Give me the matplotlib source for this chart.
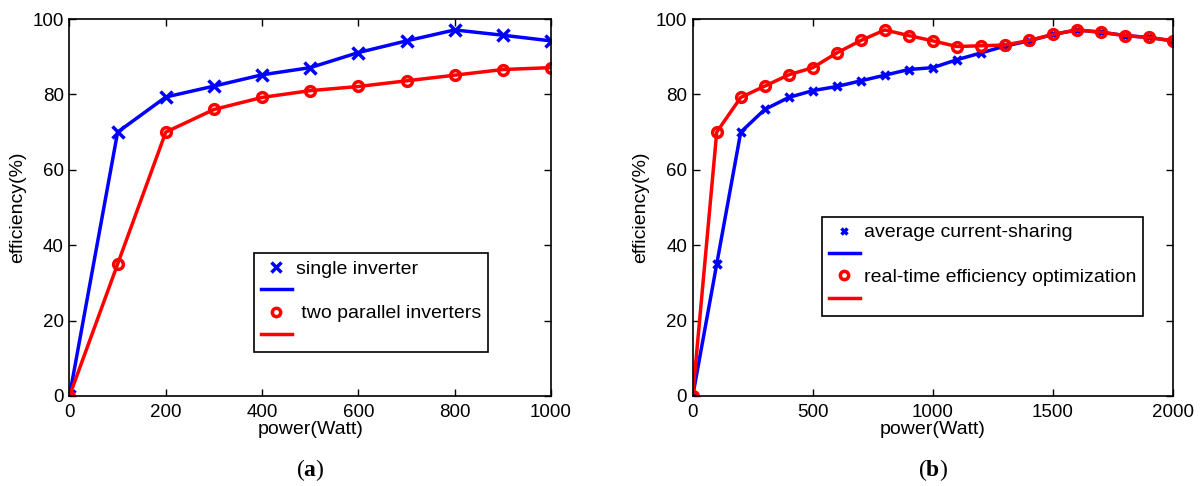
import numpy as np
import matplotlib
matplotlib.use('Agg')
import matplotlib.pyplot as plt
from matplotlib.lines import Line2D

plt.rcParams['font.family'] = ['Liberation Sans', 'DejaVu Sans']
plt.rcParams['mathtext.fontset'] = 'custom'
plt.rcParams['mathtext.rm'] = 'Liberation Serif'
plt.rcParams['mathtext.bf'] = 'Liberation Serif:bold'

# panel (a)
power_a = [0, 100, 200, 300, 400, 500, 600, 700, 800, 900, 1000]
single_inv = [0, 70, 79.3, 82.2, 85.2, 87.1, 91.1, 94.2, 97.1, 95.7, 94.2]
two_parallel = [0, 35, 70, 76, 79.2, 81, 82.1, 83.6, 85.1, 86.6, 87.1]

# panel (b)
power_b = [0, 100, 200, 300, 400, 500, 600, 700, 800, 900, 1000,
           1100, 1200, 1300, 1400, 1500, 1600, 1700, 1800, 1900, 2000]
avg_sharing = [0, 35, 70, 76, 79.2, 81, 82.1, 83.6, 85.1, 86.6, 87.1,
               89.2, 91, 92.8, 94.2, 95.9, 97.1, 96.5, 95.6, 95.1, 94.2]
realtime_opt = [0, 70, 79.2, 82.2, 85.2, 87.1, 91, 94.3, 97.1, 95.6, 94.2,
                92.7, 92.9, 93.1, 94.3, 95.9, 97.1, 96.5, 95.6, 95.1, 94.2]

BLUE = '#0000ff'
RED = '#ff0000'


def style_axes(ax, xmax, xticks):
    ax.set_xlim(0, xmax)
    ax.set_ylim(0, 100)
    ax.set_xticks(xticks)
    ax.set_yticks([0, 20, 40, 60, 80, 100])
    ax.tick_params(direction='in', top=True, right=True, labelsize=13.5,
                   length=5, width=1)
    ax.tick_params(axis='x', pad=6)
    ax.tick_params(axis='y', pad=4)
    for s in ax.spines.values():
        s.set_linewidth(1.2)
    ax.set_xlabel('power(Watt)', fontsize=14, labelpad=0)
    ax.set_ylabel('efficiency(%)', fontsize=14, labelpad=4.5)


def make_legend(ax, labels, xms, anchor):
    handles = [
        Line2D([], [], color=BLUE, marker='x', linestyle='none', ms=xms, mew=2.5),
        Line2D([], [], color=BLUE, lw=2.5),
        Line2D([], [], color=RED, marker='o', linestyle='none', ms=6,
               mfc='white', mew=2.5),
        Line2D([], [], color=RED, lw=2.5),
    ]
    leg = ax.legend(handles, [labels[0], '', labels[1], ''], loc='upper left',
                    bbox_to_anchor=anchor, fontsize=14, frameon=True,
                    fancybox=False, edgecolor='black', framealpha=1,
                    handlelength=1.6, handletextpad=0.2, labelspacing=0.25,
                    borderpad=0.35, borderaxespad=0)
    leg.get_frame().set_linewidth(1.2)


fig = plt.figure(figsize=(12.02, 4.86), dpi=100)
ax1 = fig.add_axes([0.0578, 0.1852, 0.4006, 0.7757])
ax2 = fig.add_axes([0.5763, 0.1852, 0.3996, 0.7757])

ax1.plot(power_a, single_inv, color=BLUE, lw=2.5, marker='x', ms=8, mew=2.5)
ax1.plot(power_a, two_parallel, color=RED, lw=2.5, marker='o', ms=7,
         mfc='none', mew=2.5)
style_axes(ax1, 1000, [0, 200, 400, 600, 800, 1000])
make_legend(ax1, ['single inverter', ' two parallel inverters'], 7, (0.383, 0.379))

ax2.plot(power_b, avg_sharing, color=BLUE, lw=2.5, marker='x', ms=6, mew=2.5)
ax2.plot(power_b, realtime_opt, color=RED, lw=2.5, marker='o', ms=7,
         mfc='none', mew=2.5)
style_axes(ax2, 2000, [0, 500, 1000, 1500, 2000])
make_legend(ax2, ['average current-sharing', 'real-time efficiency optimization'],
            5, (0.269, 0.475))

fig.text(0.2578, 0.032, r'$(\mathbf{a})$', ha='center', va='center', fontsize=17)
fig.text(0.7762, 0.032, r'$(\mathbf{b})$', ha='center', va='center', fontsize=17)

fig.savefig('out.png', dpi=100)
